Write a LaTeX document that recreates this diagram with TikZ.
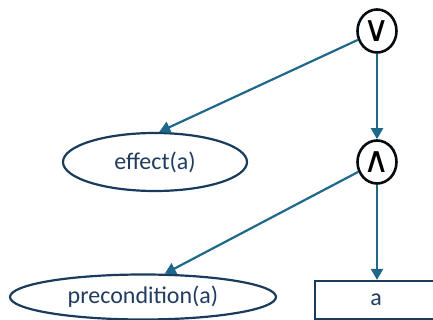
\documentclass[tikz,border=0pt]{standalone}
\usepackage{fontspec}
\setmainfont{Carlito}
\newfontfamily\symfont{DejaVu Sans}
\usetikzlibrary{shapes.geometric, arrows.meta}
\definecolor{arrowteal}{RGB}{31, 104, 138}
\definecolor{rimnavy}{RGB}{26, 60, 92}
\definecolor{textnavy}{RGB}{32, 60, 96}

\begin{document}
\begin{tikzpicture}[
    x=1pt, y=-1pt,
    font=\fontsize{24}{28}\selectfont,
    line width=2.2pt,
    % Style for the two connective nodes
    gate/.style={ellipse, draw=black!80!rimnavy, line width=2.6pt,
        minimum width=39pt, minimum height=43pt, inner sep=0pt,
        font=\symfont\fontsize{36}{40}\selectfont},
    leaf/.style={ellipse, draw=rimnavy, text=textnavy, inner sep=0pt},
    act/.style={rectangle, draw=rimnavy, text=textnavy, inner sep=0pt,
        minimum width=122pt, minimum height=38pt},
    link/.style={arrowteal, -{Triangle[length=11pt, width=12pt]}}
]

    % Frame
    \clip (0, 0) rectangle (433, 320);

    % Nodes
    \node[gate] (or)  at (377, 31)  {∨};
    \node[gate] (and) at (377, 162) {∧};

    \node[leaf, minimum width=184pt, minimum height=58pt] (effect) at (155, 162) {effect(a)};
    \node[leaf, minimum width=266pt, minimum height=45pt] (pre)    at (143, 297) {precondition(a)};
    \node[act] (a) at (376, 300) {a};

    % Connectors
    \draw[link] (or) -- (effect.82);
    \draw[link] (or) -- (and);
    \draw[link] (and) -- (pre.47);
    \draw[link] (and.south) -- (and.south |- a.north);

\end{tikzpicture}
\end{document}
